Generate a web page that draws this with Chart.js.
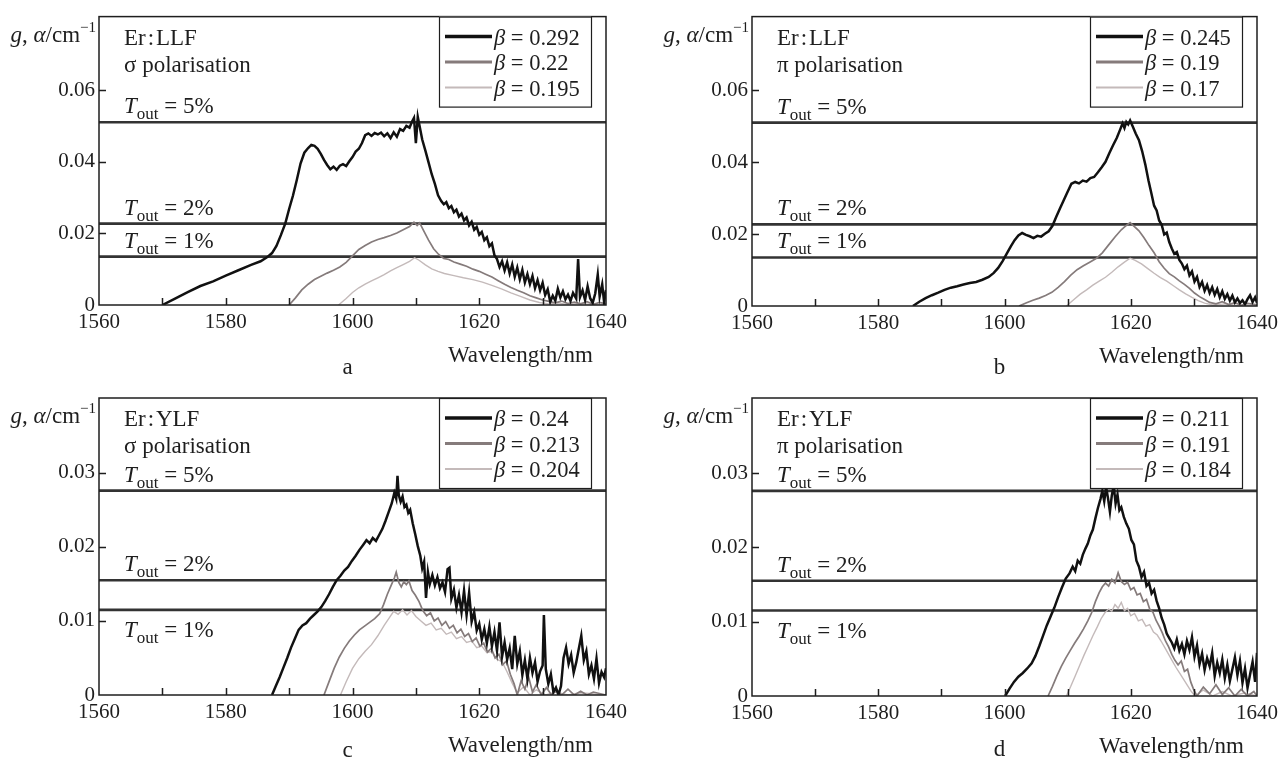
<!DOCTYPE html>
<html>
<head>
<meta charset="utf-8">
<script src="https://cdn.jsdelivr.net/npm/chart.js@4/dist/chart.umd.min.js"></script>
<style>
  body { margin: 0; background: #fff; }
  #wrap { position: relative; width: 1288px; height: 760px; }
  canvas { position: absolute; }
</style>
</head>
<body>
<div id="wrap">
  <canvas id="pa" width="644" height="380" style="left:0;top:0"></canvas>
  <canvas id="pb" width="644" height="380" style="left:644px;top:0"></canvas>
  <canvas id="pc" width="644" height="380" style="left:0;top:380px"></canvas>
  <canvas id="pd" width="644" height="380" style="left:644px;top:380px"></canvas>
</div>
<script>
// axes
const xTickVals = [1560, 1580, 1600, 1620, 1640];
const xMinorVals = [1570, 1580, 1590, 1600, 1610, 1620, 1630];
const yTicksLLF = [0, 0.02, 0.04, 0.06];
const yLabelsLLF = ['0', '0.02', '0.04', '0.06'];
const yTicksYLF = [0, 0.01, 0.02, 0.03];
const yLabelsYLF = ['0', '0.01', '0.02', '0.03'];
const thrSpan = [1560, 1640];
const thrNames = ['5%', '2%', '1%'];
const thrLLF = [0.0510, 0.0227, 0.0135];
const thrYLF = [0.0276, 0.0155, 0.0115];

// legend values
const betaA = ['0.292', '0.22', '0.195'];
const betaB = ['0.245', '0.19', '0.17'];
const betaC = ['0.24', '0.213', '0.204'];
const betaD = ['0.211', '0.191', '0.184'];

// a: Er:LLF sigma
const aHiNm = [1570,1572,1574,1576,1578,1580,1582,1584,1585.5,1586.5,1587.3,1588,1588.7,1589.4,1590,1590.6,1591.2,1591.8,1592.4,1593,1593.5,1594,1594.5,1595,1595.5,1596,1596.5,1597,1597.5,1598,1598.5,1599,1599.5,1600,1600.5,1601,1601.5,1602,1602.5,1603,1603.5,1604,1604.5,1605,1605.5,1606,1606.5,1607,1607.5,1608,1608.5,1609,1609.4,1609.7,1610,1610.3,1610.6,1611,1611.5,1612,1612.5,1613,1613.5,1614,1614.4,1614.8,1615.2,1615.6,1616,1616.4,1616.8,1617.2,1617.6,1618,1618.4,1618.8,1619.2,1619.6,1620,1620.4,1620.8,1621.2,1621.6,1622,1622.4,1622.8,1623.2,1623.6,1624,1624.4,1624.8,1625.2,1625.6,1626,1626.4,1626.8,1627.2,1627.6,1628,1628.4,1628.8,1629.2,1629.6,1630,1630.4,1630.8,1631.2,1631.6,1632,1632.4,1632.8,1633.2,1633.6,1634,1634.4,1634.8,1635.3,1635.6,1635.9,1636.3,1636.7,1637.1,1637.5,1637.9,1638.3,1638.7,1639,1639.4,1639.7,1640];
const aHiG = [0,0.0018,0.0036,0.0053,0.0066,0.0082,0.0097,0.0112,0.0122,0.0133,0.0145,0.0165,0.0195,0.0228,0.0268,0.0305,0.0348,0.0395,0.0425,0.0438,0.0447,0.0444,0.0436,0.0422,0.0405,0.0391,0.0379,0.0386,0.0377,0.0389,0.0393,0.0388,0.0401,0.0413,0.0428,0.0436,0.0452,0.0474,0.0479,0.0472,0.0480,0.0476,0.0481,0.0471,0.0479,0.0466,0.0482,0.0470,0.0491,0.0486,0.0500,0.0495,0.0512,0.0522,0.0452,0.0525,0.0498,0.0462,0.0431,0.0398,0.0365,0.0338,0.0306,0.0290,0.0281,0.0287,0.0270,0.0276,0.0259,0.0266,0.0247,0.0255,0.0236,0.0244,0.0222,0.0232,0.0210,0.0218,0.0196,0.0204,0.0181,0.0189,0.0164,0.0172,0.0139,0.0128,0.0106,0.0122,0.0096,0.0119,0.0088,0.0113,0.0079,0.0104,0.0072,0.0098,0.0063,0.0086,0.0058,0.0081,0.0047,0.0069,0.0041,0.0062,0.0028,0.0044,0.0009,0.0026,0.0012,0.0045,0.0021,0.0038,0.0016,0.0029,0.0011,0.0034,0.0018,0.0128,0.0022,0.0041,0.0014,0.0052,0.0019,0.0006,0.0032,0.0085,0.0024,0.0058,0.0008,0.0042];
const aMidNm = [1590,1591,1592,1593,1594,1595,1596,1597,1598,1599,1600,1601,1602,1603,1604,1605,1606,1607,1608,1609,1609.7,1610.2,1610.6,1611.2,1612,1612.8,1613.6,1614.4,1615.2,1616,1617,1618,1619,1620,1621,1622,1623,1624,1625,1626,1627,1628,1629,1630,1631,1632,1633,1634,1635,1636,1637,1638,1639,1640];
const aMidG = [0,0.0020,0.0042,0.0058,0.0071,0.0080,0.0089,0.0097,0.0106,0.0119,0.0137,0.0155,0.0166,0.0176,0.0183,0.0188,0.0194,0.0201,0.0210,0.0219,0.0231,0.0222,0.0229,0.0208,0.0181,0.0157,0.0141,0.0130,0.0127,0.0120,0.0114,0.0108,0.0100,0.0094,0.0086,0.0078,0.0068,0.0058,0.0049,0.0041,0.0034,0.0026,0.0020,0.0014,0.0010,0.0006,0.0011,0.0004,0.0008,0.0003,0.0009,0.0002,0.0007,0.0003];
const aLoNm = [1597.8,1599,1600,1601,1602,1603,1604,1605,1606,1607,1608,1609,1609.8,1610.5,1611.5,1612.5,1613.5,1614.5,1616,1617.5,1619,1620.5,1622,1623.5,1625,1626.5,1628,1629.5,1631,1632.5,1634,1636,1638,1640];
const aLoG = [0,0.0018,0.0035,0.0048,0.0058,0.0067,0.0076,0.0085,0.0095,0.0104,0.0113,0.0122,0.0132,0.0125,0.0112,0.0101,0.0094,0.0088,0.0082,0.0076,0.0071,0.0064,0.0055,0.0045,0.0034,0.0024,0.0014,0.0007,0.0003,0.0006,0.0001,0.0004,0.0001,0.0002];

// b: Er:LLF pi
const bHiNm = [1585.5,1586.5,1587.5,1588.5,1589.5,1590.5,1591.5,1592.5,1593.5,1594.5,1595.5,1596.5,1597.5,1598.3,1599,1599.7,1600.4,1601,1601.6,1602.2,1602.8,1603.4,1604,1604.6,1605.2,1605.8,1606.4,1607,1607.6,1608.2,1608.8,1609.4,1610,1610.6,1611.2,1611.8,1612.4,1613,1613.6,1614.2,1614.8,1615.4,1616,1616.6,1617.2,1617.8,1618.3,1618.7,1619,1619.3,1619.6,1619.9,1620.3,1620.8,1621.3,1621.8,1622.3,1622.8,1623.3,1623.7,1624.1,1624.5,1624.9,1625.3,1625.7,1626.1,1626.5,1626.9,1627.3,1627.7,1628.1,1628.5,1628.9,1629.3,1629.7,1630.1,1630.5,1630.9,1631.3,1631.7,1632.1,1632.5,1632.9,1633.3,1633.7,1634.1,1634.5,1634.9,1635.3,1635.7,1636.1,1636.5,1636.9,1637.3,1637.7,1638.1,1638.5,1638.9,1639.3,1639.7,1640];
const bHiG = [0,0.0012,0.0022,0.0030,0.0037,0.0045,0.0051,0.0055,0.0060,0.0064,0.0067,0.0073,0.0081,0.0092,0.0106,0.0125,0.0147,0.0166,0.0183,0.0196,0.0203,0.0198,0.0194,0.0189,0.0195,0.0193,0.0201,0.0208,0.0223,0.0248,0.0272,0.0295,0.0318,0.0340,0.0345,0.0341,0.0349,0.0346,0.0356,0.0359,0.0372,0.0386,0.0401,0.0425,0.0447,0.0468,0.0490,0.0508,0.0495,0.0512,0.0505,0.0516,0.0500,0.0479,0.0461,0.0431,0.0394,0.0350,0.0311,0.0279,0.0266,0.0238,0.0226,0.0199,0.0204,0.0178,0.0160,0.0145,0.0150,0.0128,0.0118,0.0102,0.0112,0.0085,0.0096,0.0068,0.0081,0.0053,0.0067,0.0042,0.0058,0.0036,0.0052,0.0031,0.0047,0.0024,0.0041,0.0020,0.0033,0.0015,0.0029,0.0010,0.0021,0.0008,0.0016,0.0005,0.0019,0.0030,0.0011,0.0024,0.0009];
const bMidNm = [1602.3,1603.5,1604.5,1605.5,1606.5,1607.5,1608.5,1609.5,1610.5,1611.5,1612.5,1613.5,1614.5,1615.5,1616.5,1617.5,1618.5,1619.3,1619.9,1620.5,1621.3,1622.1,1622.9,1623.7,1624.5,1625.3,1626.1,1626.9,1627.7,1628.5,1629.3,1630.1,1630.9,1631.7,1632.5,1633.5,1634.5,1635.5,1636.5,1637.5,1638.5,1640];
const bMidG = [0,0.0009,0.0016,0.0022,0.0029,0.0038,0.0052,0.0068,0.0086,0.0101,0.0112,0.0122,0.0132,0.0148,0.0170,0.0192,0.0212,0.0224,0.0232,0.0222,0.0209,0.0190,0.0168,0.0148,0.0123,0.0105,0.0090,0.0081,0.0070,0.0060,0.0049,0.0036,0.0026,0.0018,0.0010,0.0006,0.0012,0.0004,0.0009,0.0002,0.0007,0.0003];
const bLoNm = [1609.8,1611,1612,1613,1614,1615,1616,1617,1618,1619,1619.9,1620.7,1621.7,1622.7,1623.7,1624.7,1625.7,1626.7,1627.7,1628.7,1629.7,1630.7,1631.7,1633,1635,1637,1640];
const bLoG = [0,0.0018,0.0033,0.0045,0.0058,0.0069,0.0080,0.0094,0.0109,0.0122,0.0133,0.0127,0.0117,0.0104,0.0091,0.0079,0.0069,0.0057,0.0045,0.0034,0.0024,0.0015,0.0008,0.0003,0.0006,0.0001,0.0002];

// c: Er:YLF sigma
const cHiNm = [1587.3,1587.9,1588.5,1589.1,1589.7,1590.3,1590.9,1591.5,1592.1,1592.7,1593.3,1593.9,1594.5,1595.1,1595.7,1596.3,1596.9,1597.5,1598.1,1598.7,1599.3,1599.9,1600.5,1601.1,1601.7,1602.2,1602.7,1603.2,1603.7,1604.2,1604.7,1605.2,1605.7,1606.2,1606.6,1606.9,1607.1,1607.3,1607.6,1607.9,1608.2,1608.5,1608.8,1609.1,1609.5,1609.9,1610.3,1610.7,1611,1611.3,1611.6,1611.9,1612.2,1612.6,1613,1613.4,1613.8,1614.2,1614.6,1615,1615.3,1615.6,1616,1616.4,1616.8,1617.2,1617.6,1618,1618.4,1618.8,1619.2,1619.6,1620,1620.4,1620.8,1621.2,1621.6,1622,1622.4,1622.8,1623.2,1623.6,1624,1624.4,1624.8,1625.2,1625.6,1626,1626.4,1626.8,1627.2,1627.6,1628,1628.4,1628.8,1629.2,1629.6,1630,1630.2,1630.5,1630.9,1631.3,1631.7,1632.1,1632.5,1632.9,1633.3,1633.7,1634.1,1634.5,1634.9,1635.3,1635.7,1636.1,1636.5,1636.9,1637.3,1637.7,1638.1,1638.5,1638.9,1639.3,1639.7,1640];
const cHiG = [0,0.0012,0.0024,0.0037,0.0050,0.0064,0.0076,0.0088,0.0094,0.0097,0.0103,0.0108,0.0113,0.0119,0.0127,0.0136,0.0146,0.0155,0.0161,0.0168,0.0173,0.0181,0.0188,0.0196,0.0203,0.0209,0.0205,0.0212,0.0208,0.0216,0.0224,0.0235,0.0247,0.0259,0.0273,0.0265,0.0296,0.0270,0.0261,0.0268,0.0254,0.0257,0.0246,0.0250,0.0232,0.0217,0.0201,0.0188,0.0171,0.0180,0.0131,0.0166,0.0150,0.0162,0.0148,0.0159,0.0144,0.0152,0.0139,0.0170,0.0172,0.0130,0.0142,0.0118,0.0135,0.0112,0.0141,0.0108,0.0138,0.0099,0.0112,0.0087,0.0096,0.0075,0.0089,0.0070,0.0092,0.0066,0.0085,0.0060,0.0098,0.0052,0.0071,0.0048,0.0063,0.0035,0.0080,0.0042,0.0059,0.0027,0.0047,0.0022,0.0050,0.0030,0.0044,0.0018,0.0032,0.0040,0.0108,0.0035,0.0015,0.0028,0.0004,0.0010,0.0000,0.0012,0.0050,0.0064,0.0042,0.0054,0.0030,0.0044,0.0062,0.0080,0.0047,0.0059,0.0028,0.0040,0.0022,0.0049,0.0016,0.0031,0.0024,0.0036];
const cMidNm = [1595.5,1596.3,1597.1,1597.9,1598.7,1599.5,1600.3,1601.1,1601.9,1602.7,1603.5,1604.3,1604.9,1605.5,1606.1,1606.6,1606.9,1607.3,1607.7,1608.1,1608.5,1608.9,1609.4,1609.9,1610.5,1611.1,1611.7,1612.3,1612.9,1613.5,1614.1,1614.7,1615.3,1615.9,1616.5,1617.1,1617.7,1618.3,1618.9,1619.5,1620.1,1620.7,1621.3,1621.9,1622.5,1623.1,1623.7,1624.3,1624.9,1625.5,1626,1626.6,1627.2,1627.8,1628.4,1629,1629.8,1630.6,1631.4,1632.2,1633,1634,1635,1636,1637,1638,1640];
const cMidG = [0,0.0018,0.0036,0.0051,0.0063,0.0073,0.0081,0.0088,0.0093,0.0098,0.0103,0.0110,0.0122,0.0136,0.0148,0.0158,0.0166,0.0152,0.0146,0.0153,0.0149,0.0154,0.0141,0.0135,0.0126,0.0114,0.0107,0.0111,0.0100,0.0104,0.0094,0.0099,0.0090,0.0094,0.0084,0.0089,0.0079,0.0083,0.0072,0.0077,0.0066,0.0070,0.0058,0.0063,0.0050,0.0055,0.0041,0.0046,0.0028,0.0015,0.0000,0.0019,0.0008,0.0024,0.0004,0.0014,0.0000,0.0010,0.0000,0.0006,0.0000,0.0008,0.0000,0.0005,0.0000,0.0004,0.0000];
const cLoNm = [1598.1,1599,1600,1601,1602,1603,1604,1605,1605.8,1606.5,1607.2,1607.9,1608.6,1609.3,1610,1610.8,1611.6,1612.4,1613.2,1614,1614.8,1615.6,1616.4,1617.2,1618,1618.8,1619.6,1620.4,1621.2,1622,1622.8,1623.6,1624.4,1625.2,1626,1627,1628,1629,1630.5,1632,1634,1636,1640];
const cLoG = [0,0.0018,0.0036,0.0049,0.0059,0.0068,0.0080,0.0094,0.0104,0.0113,0.0109,0.0115,0.0108,0.0114,0.0106,0.0100,0.0094,0.0097,0.0088,0.0090,0.0082,0.0085,0.0076,0.0079,0.0071,0.0073,0.0064,0.0066,0.0057,0.0059,0.0048,0.0045,0.0031,0.0016,0.0003,0.0011,0.0000,0.0007,0.0000,0.0004,0.0000,0.0003,0.0000];

// d: Er:YLF pi
const dHiNm = [1600.1,1600.8,1601.5,1602.2,1602.9,1603.6,1604.3,1604.9,1605.5,1606.1,1606.7,1607.3,1607.9,1608.5,1609.1,1609.7,1610.3,1610.8,1611.2,1611.6,1612,1612.4,1612.8,1613.2,1613.6,1614,1614.4,1614.8,1615.2,1615.5,1615.8,1616.1,1616.4,1616.7,1617,1617.3,1617.6,1617.9,1618.2,1618.5,1618.9,1619.3,1619.7,1620.1,1620.5,1620.9,1621.3,1621.7,1622.1,1622.5,1622.9,1623.3,1623.7,1624.1,1624.5,1624.9,1625.3,1625.7,1626.1,1626.5,1626.9,1627.3,1627.7,1628.1,1628.5,1628.9,1629.3,1629.7,1630.1,1630.5,1630.9,1631.3,1631.7,1632.1,1632.5,1632.9,1633.3,1633.7,1634.1,1634.5,1634.9,1635.3,1635.7,1636.1,1636.5,1636.9,1637.3,1637.7,1638.1,1638.5,1638.9,1639.3,1639.7,1640];
const dHiG = [0,0.0010,0.0019,0.0026,0.0031,0.0037,0.0044,0.0054,0.0067,0.0081,0.0095,0.0107,0.0119,0.0133,0.0146,0.0158,0.0165,0.0174,0.0168,0.0182,0.0178,0.0190,0.0198,0.0205,0.0216,0.0224,0.0239,0.0253,0.0265,0.0276,0.0262,0.0281,0.0266,0.0248,0.0270,0.0283,0.0259,0.0271,0.0250,0.0254,0.0241,0.0232,0.0225,0.0210,0.0204,0.0182,0.0174,0.0160,0.0167,0.0148,0.0152,0.0138,0.0143,0.0128,0.0118,0.0105,0.0096,0.0084,0.0078,0.0072,0.0064,0.0076,0.0061,0.0070,0.0056,0.0074,0.0062,0.0079,0.0053,0.0068,0.0043,0.0057,0.0035,0.0051,0.0040,0.0058,0.0027,0.0045,0.0031,0.0049,0.0024,0.0042,0.0020,0.0036,0.0052,0.0028,0.0047,0.0018,0.0037,0.0011,0.0029,0.0046,0.0019,0.0058];
const dMidNm = [1606.9,1607.6,1608.3,1609,1609.7,1610.4,1611.1,1611.8,1612.5,1613.2,1613.8,1614.4,1615,1615.5,1616,1616.5,1617,1617.5,1618,1618.5,1619,1619.5,1620,1620.5,1621,1621.5,1622,1622.5,1623,1623.5,1624,1624.5,1625,1625.5,1626,1626.5,1627,1627.5,1628,1628.5,1629,1629.5,1630,1630.5,1631.5,1632.5,1633.5,1634.5,1635.5,1636.5,1637.5,1638.5,1639.5,1640];
const dMidG = [0,0.0013,0.0027,0.0040,0.0051,0.0061,0.0071,0.0080,0.0090,0.0101,0.0112,0.0127,0.0139,0.0147,0.0152,0.0148,0.0157,0.0152,0.0166,0.0154,0.0150,0.0153,0.0143,0.0146,0.0136,0.0138,0.0127,0.0130,0.0117,0.0113,0.0102,0.0094,0.0085,0.0074,0.0066,0.0056,0.0048,0.0042,0.0047,0.0033,0.0036,0.0019,0.0008,0.0000,0.0012,0.0003,0.0015,0.0002,0.0011,0.0000,0.0009,0.0000,0.0006,0.0000];
const dLoNm = [1609.8,1610.5,1611.2,1611.9,1612.6,1613.3,1614,1614.7,1615.3,1615.9,1616.5,1617,1617.5,1618,1618.5,1619,1619.5,1620,1620.6,1621.2,1621.8,1622.4,1623,1623.6,1624.2,1624.8,1625.4,1626,1626.6,1627.2,1627.8,1628.4,1629,1629.6,1630.2,1631.5,1633,1634.5,1636,1638,1640];
const dLoG = [0,0.0013,0.0027,0.0041,0.0055,0.0068,0.0081,0.0093,0.0104,0.0112,0.0117,0.0114,0.0123,0.0118,0.0126,0.0115,0.0118,0.0108,0.0111,0.0101,0.0103,0.0094,0.0096,0.0086,0.0082,0.0074,0.0065,0.0056,0.0047,0.0038,0.0030,0.0022,0.0014,0.0006,0.0000,0.0008,0.0000,0.0006,0.0000,0.0004,0.0000];

const serif = '"Liberation Serif", "Times New Roman", serif';
const ink = '#1e1e1e';
const curveColors = ['#111111', '#857b7b', '#c4baba'];
const curveWidths = [2.5, 1.7, 1.4];
const textSize = 23;

function fnt(p) {
    return (p.i ? 'italic ' : '') + (p.s || textSize) + 'px ' + serif;
}

function drawRuns(ctx, parts, x, y, right) {
    let w = 0;
    parts.forEach(p => { ctx.font = fnt(p); w += ctx.measureText(p.t).width; });
    let cx = right ? x - w : x;
    parts.forEach(p => {
        ctx.font = fnt(p);
        ctx.fillText(p.t, cx, y + (p.dy || 0));
        cx += ctx.measureText(p.t).width;
    });
}

function tLabel(pct) {
    return [{t: 'T', i: 1}, {t: 'out', s: 17, dy: 6}, {t: ' = ' + pct}];
}

const decor = {
    id: 'decor',
    afterDatasetsDraw(chart, args, o) {
        const ctx = chart.ctx;
        const a = chart.chartArea;
        const x = chart.scales.x, y = chart.scales.y;
        ctx.save();
        ctx.fillStyle = ink;
        ctx.strokeStyle = ink;
        ctx.textBaseline = 'alphabetic';

        // frame and inward ticks
        ctx.lineWidth = 1.5;
        ctx.strokeRect(a.left, a.top, a.right - a.left, a.bottom - a.top);
        ctx.beginPath();
        xMinorVals.forEach(v => {
            const px = Math.round(x.getPixelForValue(v)) + 0.5;
            ctx.moveTo(px, a.bottom);
            ctx.lineTo(px, a.bottom - 7);
        });
        o.yTicks.forEach(v => {
            if (v === 0) return;
            const py = Math.round(y.getPixelForValue(v)) + 0.5;
            ctx.moveTo(a.left, py);
            ctx.lineTo(a.left + 7, py);
        });
        ctx.stroke();

        // y title
        drawRuns(ctx, [{t: 'g', i: 1}, {t: ', '}, {t: 'α', i: 1}, {t: '/cm'}, {t: '−1', s: 15, dy: -10}],
            a.left - 3, a.top + 25, true);

        // material and polarisation
        drawRuns(ctx, [{t: o.material}], a.left + 25, a.top + 28);
        drawRuns(ctx, [{t: o.pol}], a.left + 25, a.top + 55);

        // threshold labels
        o.thr.forEach((v, i) => {
            const py = y.getPixelForValue(v);
            const by = (i === 2 && o.lowLabelBelow) ? py + 27 : py - 9;
            drawRuns(ctx, tLabel(thrNames[i]), a.left + 25, by);
        });

        // x title and panel letter
        drawRuns(ctx, [{t: 'Wavelength/nm'}], a.right - 13, a.bottom + 57, true);
        ctx.textAlign = 'center';
        ctx.font = fnt({});
        ctx.fillText(o.letter, (a.left + a.right) / 2 - 5, a.bottom + o.letterDy);
        ctx.textAlign = 'left';

        // legend
        const bw = 152, bh = 90;
        const bx = a.right - 15 - bw, by = a.top;
        ctx.fillStyle = '#fff';
        ctx.fillRect(bx, by, bw, bh);
        ctx.lineWidth = 1.2;
        ctx.strokeStyle = ink;
        ctx.strokeRect(bx + 0.5, by + 0.5, bw, bh);
        chart.data.datasets.slice(0, 3).forEach((ds, i) => {
            const ry = by + 20 + i * 25.5;
            ctx.strokeStyle = ds.borderColor;
            ctx.lineWidth = [3.5, 3, 2][i];
            ctx.beginPath();
            ctx.moveTo(bx + 6, ry);
            ctx.lineTo(bx + 53, ry);
            ctx.stroke();
            ctx.fillStyle = ink;
            drawRuns(ctx, [{t: 'β', i: 1, s: 22.5}, {t: ' = ' + o.betas[i], s: 22.5}], bx + 55, ry + 8);
        });
        ctx.restore();
    }
};

function pairs(xs, ys) {
    return xs.map((v, i) => ({x: v, y: ys[i]}));
}

function makePanel(id, p) {
    const datasets = p.series.map((s, i) => ({
        label: 'β = ' + p.betas[i],
        data: pairs(s[0], s[1]),
        borderColor: curveColors[i],
        borderWidth: curveWidths[i]
    }));
    p.thr.forEach(v => {
        datasets.push({
            label: 'T',
            data: pairs(thrSpan, [v, v]),
            borderColor: '#333333',
            borderWidth: 2.6
        });
    });
    new Chart(document.getElementById(id), {
        type: 'line',
        data: {datasets: datasets},
        options: {
            responsive: false,
            animation: false,
            parsing: false,
            layout: {padding: {left: 0, top: p.top, right: 644 - p.right, bottom: 0}},
            elements: {point: {radius: 0}, line: {tension: 0}},
            plugins: {
                legend: {display: false},
                tooltip: {enabled: false},
                decor: {
                    yTicks: p.yTicks, thr: p.thr, betas: p.betas,
                    material: p.material, pol: p.pol, letter: p.letter,
                    letterDy: p.letterDy, lowLabelBelow: p.lowLabelBelow
                }
            },
            scales: {
                x: {
                    type: 'linear', min: 1560, max: 1640,
                    grid: {display: false, drawTicks: false},
                    border: {display: false},
                    afterFit: s => { s.height = 380 - p.bottom; },
                    afterBuildTicks: s => { s.ticks = xTickVals.map(v => ({value: v})); },
                    ticks: {
                        autoSkip: false, maxRotation: 0, padding: 5, color: ink,
                        font: {family: serif, size: 21},
                        callback: v => String(v)
                    }
                },
                y: {
                    type: 'linear', min: 0, max: p.yMax,
                    grid: {display: false, drawTicks: false},
                    border: {display: false},
                    afterFit: s => { s.width = p.left; },
                    afterBuildTicks: s => { s.ticks = p.yTicks.map(v => ({value: v})); },
                    ticks: {
                        padding: 4, color: ink,
                        font: {family: serif, size: 21},
                        callback: v => p.yLabels[p.yTicks.indexOf(v)]
                    }
                }
            }
        },
        plugins: [decor]
    });
}

makePanel('pa', {
    left: 99, right: 606, top: 7, bottom: 305, yMax: 0.0805,
    yTicks: yTicksLLF, yLabels: yLabelsLLF, thr: thrLLF, betas: betaA,
    material: 'Er\u200A:\u200ALLF', pol: 'σ polarisation', letter: 'a', letterDy: 69,
    series: [[aHiNm, aHiG], [aMidNm, aMidG], [aLoNm, aLoG]]
});
makePanel('pb', {
    left: 108, right: 613, top: 7, bottom: 306, yMax: 0.0805,
    yTicks: yTicksLLF, yLabels: yLabelsLLF, thr: thrLLF, betas: betaB,
    material: 'Er\u200A:\u200ALLF', pol: 'π polarisation', letter: 'b', letterDy: 68,
    series: [[bHiNm, bHiG], [bMidNm, bMidG], [bLoNm, bLoG]]
});
makePanel('pc', {
    left: 99, right: 606, top: 18, bottom: 315, yMax: 0.0401,
    yTicks: yTicksYLF, yLabels: yLabelsYLF, thr: thrYLF, betas: betaC,
    material: 'Er\u200A:\u200AYLF', pol: 'σ polarisation', letter: 'c', letterDy: 62, lowLabelBelow: true,
    series: [[cHiNm, cHiG], [cMidNm, cMidG], [cLoNm, cLoG]]
});
makePanel('pd', {
    left: 108, right: 613, top: 18, bottom: 316, yMax: 0.0401,
    yTicks: yTicksYLF, yLabels: yLabelsYLF, thr: thrYLF, betas: betaD,
    material: 'Er\u200A:\u200AYLF', pol: 'π polarisation', letter: 'd', letterDy: 60, lowLabelBelow: true,
    series: [[dHiNm, dHiG], [dMidNm, dMidG], [dLoNm, dLoG]]
});
</script>
</body>
</html>
